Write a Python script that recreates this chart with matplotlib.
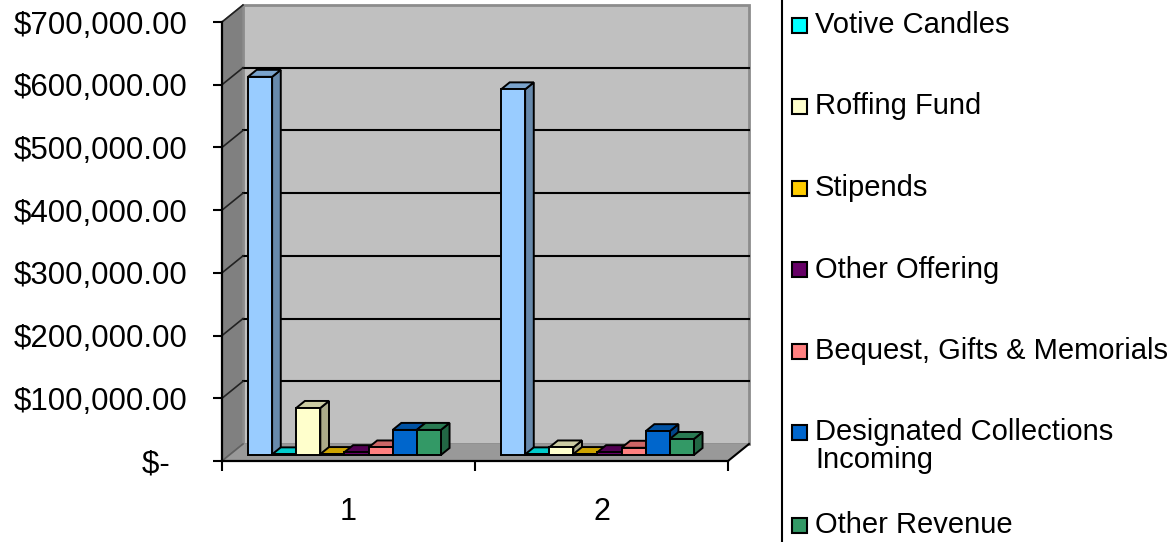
import matplotlib.pyplot as plt
from matplotlib.patches import Polygon, Rectangle
from matplotlib.ticker import FuncFormatter

plt.rcParams['font.family'] = ['Liberation Sans', 'DejaVu Sans']

categories = ['1', '2']
series_names = ['Collections', 'Votive Candles', 'Roffing Fund', 'Stipends',
                'Other Offering', 'Bequest, Gifts & Memorials',
                'Designated Collections\nIncoming', 'Other Revenue']
collections = [603000, 583000]
votive = [1000, 1000]
roofing = [75000, 12000]
stipends = [1500, 1500]
other_offering = [4500, 4500]
bequest = [12000, 11500]
designated = [40000, 38000]
other_revenue = [40000, 25500]
series = [collections, votive, roofing, stipends, other_offering,
          bequest, designated, other_revenue]
colors = ['#99CCFF', '#00FFFF', '#FFFFCC', '#FFCC00', '#660066',
          '#FF8080', '#0066CC', '#339966']
yticks = list(range(0, 700001, 100000))


def shade(c, k):
    c = c.lstrip('#')
    r, g, b = (int(c[i:i + 2], 16) / 255 for i in (0, 2, 4))
    return (r * k, g * k, b * k)


fig = plt.figure(figsize=(11.75, 5.42), dpi=100)
ax = fig.add_axes([222 / 1175, 81 / 542, 506 / 1175, 439 / 542])
ax.set_xlim(0, len(categories))
ax.set_ylim(0, yticks[-1])
ax.patch.set_visible(False)

# oblique "3D" depth of walls, in data units
DX = 21 / 253
DY = 17 * yticks[-1] / 439
top = yticks[-1]
n = len(categories)

ax.add_patch(Polygon([(0, 0), (DX, DY), (DX, top + DY), (0, top)],
                     closed=True, facecolor='#808080', edgecolor='#606060',
                     lw=1, clip_on=False, zorder=1))
ax.add_patch(Polygon([(DX, DY), (n + DX, DY), (n + DX, top + DY), (DX, top + DY)],
                     closed=True, facecolor='#C0C0C0', edgecolor='#8C8C8C',
                     lw=2, clip_on=False, zorder=1))
ax.add_patch(Polygon([(0, 0), (n, 0), (n + DX, DY), (DX, DY)],
                     closed=True, facecolor='#999999', edgecolor='none',
                     clip_on=False, zorder=1))
ax.plot([n, n + DX], [0, DY], color='black', lw=1.5, clip_on=False, zorder=2)

for v in yticks[1:-1]:
    ax.plot([DX, n + DX], [v + DY, v + DY], color='black', lw=1.5,
            clip_on=False, zorder=1.5)
for v in yticks:
    ax.plot([0, DX], [v, v + DY], color='#222222' if v else '#606060',
            lw=1.2, clip_on=False, zorder=1.5)

# bars
f0, f1 = 0.353, 0.765
G0, W = 0.0735, 0.0953
for i, (vals, col) in enumerate(zip(series, colors)):
    for j, v in enumerate(vals):
        x0 = j + G0 + i * W
        xa, ya = x0 + f0 * DX, f0 * DY
        xb, yb = x0 + f1 * DX, f1 * DY
        side = [(xa + W, ya), (xb + W, yb), (xb + W, yb + v), (xa + W, ya + v)]
        tface = [(xa, ya + v), (xa + W, ya + v), (xb + W, yb + v), (xb, yb + v)]
        ax.add_patch(Polygon(side, closed=True, facecolor=shade(col, 0.67),
                             edgecolor='black', lw=1.4, clip_on=False, zorder=3))
        ax.add_patch(Polygon(tface, closed=True, facecolor=shade(col, 0.8),
                             edgecolor='black', lw=1.4, clip_on=False, zorder=3))
        ax.add_patch(Rectangle((xa, ya), W, v, facecolor=col,
                               edgecolor='black', lw=1.4, clip_on=False, zorder=3))

# axes
for s in ['top', 'right']:
    ax.spines[s].set_visible(False)
for s in ['left', 'bottom']:
    ax.spines[s].set_linewidth(1.6)
    ax.spines[s].set_zorder(4)

ax.set_yticks(yticks)
ax.yaxis.set_major_formatter(FuncFormatter(
    lambda v, p: '$-  ' if v == 0 else f'${v:,.2f}'))
ax.tick_params(axis='y', length=6.5, width=1.5, pad=18.5, labelsize=22.5)

ax.set_xticks(range(n + 1))
ax.set_xticklabels([])
ax.set_xticks([j + 0.5 for j in range(n)], minor=True)
ax.set_xticklabels(categories, minor=True)
ax.tick_params(axis='x', which='major', length=7, width=1.5)
ax.tick_params(axis='x', which='minor', length=0, pad=26, labelsize=22)

# legend (box runs off the picture edge)
fig.patches.append(Rectangle((782 / 1175, -0.05), 1.0, 1.2, transform=fig.transFigure,
                             facecolor='white', edgecolor='black', lw=1.5))
legend_y = [25 + 81.5 * k for k in range(6)] + [525]
for k, (name, col) in enumerate(zip(series_names[1:], colors[1:])):
    yc = 542 - legend_y[k]
    fig.patches.append(Rectangle((792 / 1175, (yc - 7.5) / 542), 15 / 1175, 15 / 542,
                                 transform=fig.transFigure, facecolor=col,
                                 edgecolor='black', lw=1.5))
    for m, line in enumerate(name.split('\n')):
        fig.text(815 / 1175, (yc - 28 * m) / 542, line, fontsize=21,
                 ha='left', va='center')

fig.savefig('out.png', dpi=100)
